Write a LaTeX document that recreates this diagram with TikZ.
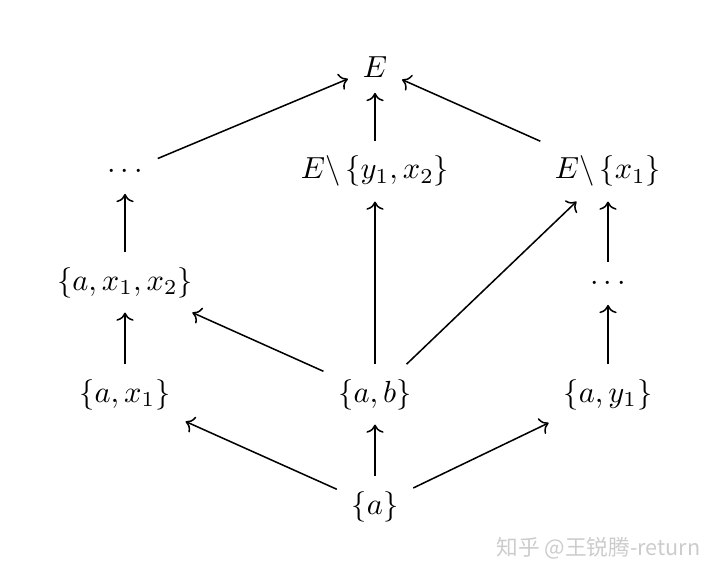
\documentclass[tikz,border=0pt]{standalone}
\usepackage{fontspec}
\newfontfamily\cjk{Noto Sans CJK SC}
\usetikzlibrary{arrows.meta}
\begin{document}
\begin{tikzpicture}[x=0.328pt,y=-0.328pt,
  setnode/.style={inner sep=4.7pt, anchor=base},
  arr/.style={-{Computer Modern Rightarrow}, line width=0.5pt}]
\useasboundingbox (0,0) rectangle (720,577);
\node[setnode] (E)    at (375,78)  {$E$};
\node[setnode] (dl)   at (125,179) {$\cdots$};
\node[setnode] (Ey)   at (375,179) {$E\backslash\left\{y_1,x_2\right\}$};
\node[setnode] (Ex)   at (608,179) {$E\backslash\left\{x_1\right\}$};
\node[setnode] (ax12) at (125,290) {$\{a,x_1,x_2\}$};
\node[setnode] (dr)   at (608,290) {$\cdots$};
\node[setnode] (ax1)  at (125,402) {$\{a,x_1\}$};
\node[setnode] (ab)   at (375,402) {$\{a,b\}$};
\node[setnode] (ay1)  at (608,402) {$\{a,y_1\}$};
\node[setnode] (a)    at (375,514) {$\{a\}$};
\draw[arr] (dl) -- (E);
\draw[arr] (Ey) -- (E);
\draw[arr] (Ex) -- (E);
\draw[arr] (ax12) -- (dl);
\draw[arr] (ab) -- (Ey);
\draw[arr] (ab) -- (Ex);
\draw[arr] (dr) -- (Ex);
\draw[arr] (ax1) -- (ax12);
\draw[arr] (ab) -- (ax12);
\draw[arr] (ay1) -- (dr);
\draw[arr] (a) -- (ax1);
\draw[arr] (a) -- (ab);
\draw[arr] (a) -- (ay1);
\node[anchor=west, inner sep=0pt, text=gray!40, font=\cjk\fontsize{7.1}{8}\selectfont] (wm) at (496,548) {知乎 @王锐腾-return};
\end{tikzpicture}
\end{document}
